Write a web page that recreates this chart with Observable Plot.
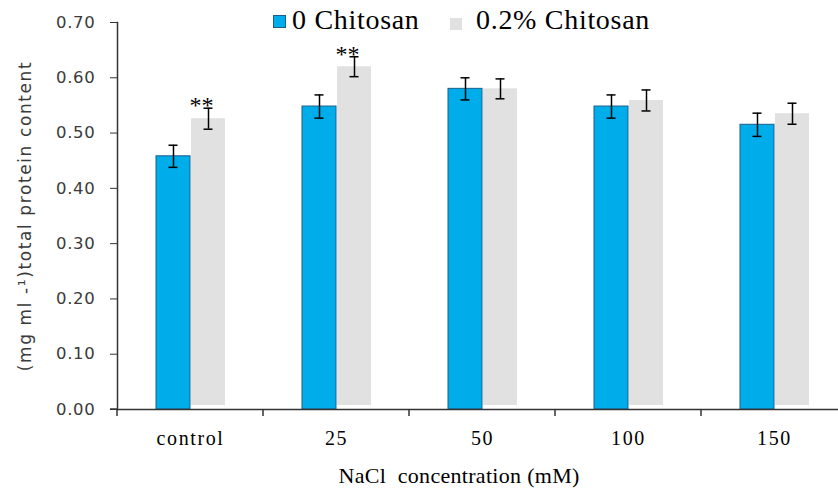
<!DOCTYPE html>
<html>
<head>
<meta charset="utf-8">
<script src="https://cdn.jsdelivr.net/npm/d3@7"></script>
<script src="https://cdn.jsdelivr.net/npm/@observablehq/plot@0.6"></script>
<style>
  body { margin: 0; background: #fff; }
  #wrap { position: relative; width: 838px; height: 493px; }
  #legend { position: absolute; top: 0; left: 0; width: 838px; height: 40px; font-family: "Liberation Serif", "Times New Roman", serif; font-size: 28px; color: #000; letter-spacing: 0.7px; }
  .sw { position: absolute; }
  .lt { position: absolute; top: 4px; white-space: pre; line-height: 32px; }
</style>
</head>
<body>
<div id="wrap">
  <div id="chart"></div>
  <div id="legend"></div>
</div>
<script>
const categories = ["control", "25", "50", "100", "150"];
const series = ["0 Chitosan", "0.2% Chitosan"];
const mean0 = [0.458, 0.548, 0.580, 0.548, 0.515];
const err0  = [0.020, 0.021, 0.020, 0.021, 0.021];
const mean2 = [0.526, 0.620, 0.580, 0.559, 0.535];
const err2  = [0.019, 0.018, 0.018, 0.019, 0.019];
const signif = ["**", "**", "", "", ""];
const yTicks = [0, 0.1, 0.2, 0.3, 0.4, 0.5, 0.6, 0.7];
const colors = ["#00ADEB", "#E1E1E1"];
const strokes = ["#1B5E8C", "#E1E1E1"];

const rows = [];
categories.forEach((c, i) => {
  rows.push({cat: c, s: series[0], v: mean0[i], e: err0[i], sig: ""});
  rows.push({cat: c, s: series[1], v: mean2[i], e: err2[i], sig: signif[i]});
});

const chart = Plot.plot({
  width: 838,
  height: 493,
  marginTop: 22,
  marginBottom: 84,
  marginLeft: 117,
  marginRight: -9,
  style: {background: "transparent", overflow: "visible"},
  fx: {domain: categories, padding: 0},
  x: {domain: series, paddingInner: 0.03, paddingOuter: 1.1, axis: null},
  y: {domain: [0, 0.7]},
  color: {domain: series, range: colors},
  marks: [
    Plot.barY(rows.filter(d => d.s === series[0]), {fx: "cat", x: "s", y: "v", fill: colors[0], stroke: strokes[0], strokeWidth: 1}),
    Plot.barY(rows.filter(d => d.s === series[1]), {fx: "cat", x: "s", y: "v", fill: colors[1], insetBottom: 4}),
    Plot.ruleX(rows, {fx: "cat", x: "s", y1: d => d.v - d.e, y2: d => d.v + d.e, stroke: "#000", strokeWidth: 1.5}),
    Plot.tickY(rows, {fx: "cat", x: "s", y: d => d.v + d.e, stroke: "#000", strokeWidth: 1.5, insetLeft: 12.5, insetRight: 12.5}),
    Plot.tickY(rows, {fx: "cat", x: "s", y: d => d.v - d.e, stroke: "#000", strokeWidth: 1.5, insetLeft: 12.5, insetRight: 12.5}),
    Plot.text(rows.filter(d => d.sig), {fx: "cat", x: "s", y: d => d.v + d.e, text: "sig", dy: 5, dx: -7, lineAnchor: "bottom", fontFamily: "Liberation Serif", fontSize: 24, fill: "#000"}),
    Plot.ruleY([0], {stroke: "#333", strokeWidth: 1.5}),
    Plot.frame({anchor: "left", facet: "super", stroke: "#333", strokeWidth: 1.5}),
    Plot.axisY({ticks: yTicks, tickFormat: d3.format(".2f"), tickSize: 7, tickPadding: 15, fontSize: 16.5, fontFamily: "DejaVu Sans", color: "#3a3a3a", stroke: "#333",
      label: "(mg ml -¹)total protein content", labelAnchor: "center", labelArrow: "none", labelOffset: 99}),
    Plot.axisFx({anchor: "bottom", tickSize: 0, tickPadding: 21, fontSize: 20, fontFamily: "Liberation Serif", color: "#000", label: null}),
    Plot.text(["NaCl  concentration (mM)"], {facet: "super", frameAnchor: "bottom-left", textAnchor: "start", lineAnchor: "bottom", dx: 221, dy: 73, fontSize: 22, fontFamily: "Liberation Serif", fill: "#000", text: d => d})
  ]
});
document.getElementById("chart").appendChild(chart);

const svg = d3.select(chart.tagName.toLowerCase() === "svg" ? chart : chart.querySelector("svg"));
// stretched look of the original text
svg.selectAll("[aria-label='fx-axis tick label'] text").attr("letter-spacing", "1.6px");
svg.selectAll("[aria-label='y-axis tick label'] text").attr("letter-spacing", "0.7px");
svg.selectAll("[aria-label='y-axis label'] text").attr("letter-spacing", "1.6px").attr("font-size", 17);
svg.selectAll("g[aria-label='text'] text").each(function() {
  const t = d3.select(this).text();
  if (t.startsWith("NaCl")) d3.select(this).attr("letter-spacing", "0.3px");
});

// category boundary ticks on the x axis, from Plot's fx scale
const fx = chart.scale("fx");
const y = chart.scale("y");
const y0 = y.apply(0);
const bounds = categories.map(c => fx.apply(c)).concat([fx.apply(categories[categories.length - 1]) + fx.bandwidth]);
svg.append("g").selectAll("line").data(bounds).join("line")
  .attr("x1", d => d).attr("x2", d => d).attr("y1", y0).attr("y2", y0 + 7)
  .attr("stroke", "#333").attr("stroke-width", 1.5);
svg.append("line").attr("x1", fx.apply(categories[0]) - 7).attr("x2", fx.apply(categories[0]))
  .attr("y1", y0).attr("y2", y0).attr("stroke", "#333").attr("stroke-width", 1.5);

// legend
const legend = document.getElementById("legend");
const items = [
  {label: series[0], sx: 273, sy: 15, ss: 13, tx: 292},
  {label: series[1], sx: 450, sy: 18, ss: 12, tx: 476}
];
items.forEach((it, i) => {
  const sw = document.createElement("div");
  sw.className = "sw";
  Object.assign(sw.style, {left: it.sx + "px", top: it.sy + "px", width: it.ss + "px", height: it.ss + "px", background: colors[i], boxSizing: "border-box", border: i === 0 ? "1px solid " + strokes[0] : "none"});
  legend.appendChild(sw);
  const t = document.createElement("div");
  t.className = "lt";
  t.style.left = it.tx + "px";
  t.textContent = it.label;
  legend.appendChild(t);
});
</script>
</body>
</html>
